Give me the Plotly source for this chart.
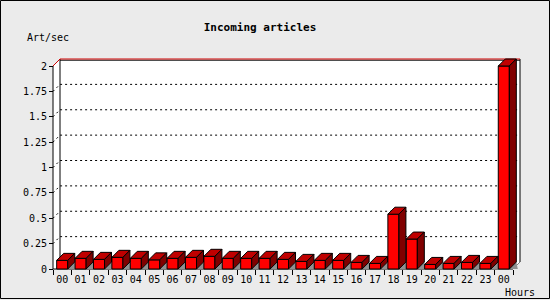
import plotly.graph_objects as go

# ---------------- data ----------------
hours = ["00", "01", "02", "03", "04", "05", "06", "07", "08", "09", "10", "11",
         "12", "13", "14", "15", "16", "17", "18", "19", "20", "21", "22", "23", "00"]
rates = [0.085, 0.105, 0.095, 0.115, 0.105, 0.09, 0.105, 0.115, 0.125, 0.105, 0.105, 0.105,
         0.095, 0.075, 0.085, 0.085, 0.065, 0.055, 0.54, 0.295, 0.045, 0.055, 0.065, 0.055, 2.0]
y_ticks = [0, 0.25, 0.5, 0.75, 1, 1.25, 1.5, 1.75, 2]
y_tick_text = ["0", "0.25", "0.5", "0.75", "1", "1.25", "1.5", "1.75", "2"]
grid_vals = [0.25, 0.5, 0.75, 1, 1.25, 1.5, 1.75]

# ---------------- geometry / style ----------------
FONT = "DejaVu Sans Mono"
BG = "#ebebeb"
PX_X, PX_Y = 18.4, 101.5          # pixels per data unit
D, DY = 7 / PX_X, 7 / PX_Y         # 3D depth offset in data units
BW = 0.6                           # bar width
PAD = 2
L, R, T, B = 51, 28, 57, 29
PW, PH = 550 - L - R, 300 - T - B
n = len(rates)
x0, x1 = -0.5, n - 0.5
ymax = y_ticks[-1]

def px(x):  # image pixel -> paper
    return (x - L) / PW

def py(y):
    return (300 - B - y) / PH

fig = go.Figure()

def poly(xs, ys, fill, line_color=None, width=1, dash=None):
    fig.add_trace(go.Scatter(
        x=xs, y=ys, mode="lines", hoverinfo="skip",
        fill="toself" if fill else None, fillcolor=fill,
        line=dict(color=line_color or "rgba(0,0,0,0)", width=width if line_color else 0,
                  dash=dash)))

def line(xs, ys, color, width=1, dash=None):
    fig.add_trace(go.Scatter(x=xs, y=ys, mode="lines", hoverinfo="skip",
                             line=dict(color=color, width=width, dash=dash)))

# white 3D box
poly([x0, x0, x0 + D, x1 + D, x1 + D, x1, x0],
     [0, ymax, ymax + DY, ymax + DY, DY, 0, 0], "white")

# dotted grid on back wall with diagonal on left wall
gx, gy = [], []
for v in grid_vals:
    gx += [x0, x0 + D, x1 + D, None]
    gy += [v, v + DY, v + DY, None]
line(gx, gy, "black", 1, "2px,3px")

# back verticals
line([x0 + D, x0 + D, None, x1 + D, x1 + D], [DY, ymax + DY, None, DY, ymax + DY], "black")
# top edge: black then red
line([x0 + D, x1 + D], [ymax + DY - 1.2 / PX_Y, ymax + DY - 1.2 / PX_Y], "black")
line([x0, x0 + D, x1 + D], [ymax, ymax + DY, ymax + DY], "#d00000")
# front axis lines
line([x0, x0, None, x0, x1], [0, ymax, None, 0, 0], "black")
line([x1, x1 + D], [0, DY], "#808080")

# floor shadows
sx, sy = [], []
for i in range(n):
    xr = i + BW / 2
    sx += [xr, xr + D, xr + D + 0.08, xr, None]
    sy += [0, DY, 0, 0, None]
poly(sx, sy, "#909090")

# bar faces: front, top, side
fx, fy, tx, ty, rx, ry = [], [], [], [], [], []
for i, v in enumerate(rates):
    xl, xr = i - BW / 2, i + BW / 2
    fx += [xl, xl, xr, xr, xl, None]
    fy += [0, v, v, 0, 0, None]
    tx += [xl, xl + D, xr + D, xr, xl, None]
    ty += [v, v + DY, v + DY, v, v, None]
    rx += [xr, xr + D, xr + D, xr, xr, None]
    ry += [0, DY, v + DY, v, 0, None]
poly(fx, fy, "#ff0000", "black", 1)
poly(tx, ty, "#c00000", "black", 1)
poly(rx, ry, "#800000", "black", 1)

fig.update_layout(
    width=550, height=300,
    margin=dict(l=L, r=R, t=T, b=B, pad=0),
    paper_bgcolor=BG, plot_bgcolor=BG,
    showlegend=False,
    font=dict(family=FONT, size=10, color="black"),
    title=dict(text="<b>Incoming articles</b>", xref="container", yref="container",
               x=260 / 550, y=1 - 27 / 300, xanchor="center", yanchor="middle",
               font=dict(family=FONT, size=11, color="black")),
    xaxis=dict(range=[x0 - PAD / PX_X, x1 + D + PAD / PX_X],
               tickmode="array", tickvals=list(range(n)), ticktext=hours,
               ticks="", showgrid=False, zeroline=False, showline=False,
               anchor="free", position=PAD / PH, ticklabelstandoff=3,
               minor=dict(tickmode="array", tickvals=[i - 0.5 for i in range(n + 1)],
                          ticks="outside", ticklen=5, tickcolor="black", showgrid=False),
               tickfont=dict(family=FONT, size=10)),
    yaxis=dict(range=[-PAD / PX_Y, ymax + DY + PAD / PX_Y],
               tickmode="array", tickvals=y_ticks, ticktext=y_tick_text,
               ticks="outside", ticklen=4, tickcolor="black",
               showgrid=False, zeroline=False, showline=False,
               anchor="free", position=PAD / PW,
               tickfont=dict(family=FONT, size=10)),
    annotations=[
        dict(text="Art/sec", xref="paper", yref="paper", x=px(48), y=py(37.5),
             xanchor="center", yanchor="middle", showarrow=False,
             font=dict(family=FONT, size=10)),
        dict(text="Hours", xref="paper", yref="paper", x=px(519.5), y=py(292),
             xanchor="center", yanchor="middle", showarrow=False,
             font=dict(family=FONT, size=10)),
    ],
    shapes=[dict(type="rect", xref="paper", yref="paper",
                 x0=px(0.5), x1=px(549.5), y0=py(298.5), y1=py(0.5),
                 line=dict(color="black", width=1), layer="above")],
)

fig.write_html("out.html")
